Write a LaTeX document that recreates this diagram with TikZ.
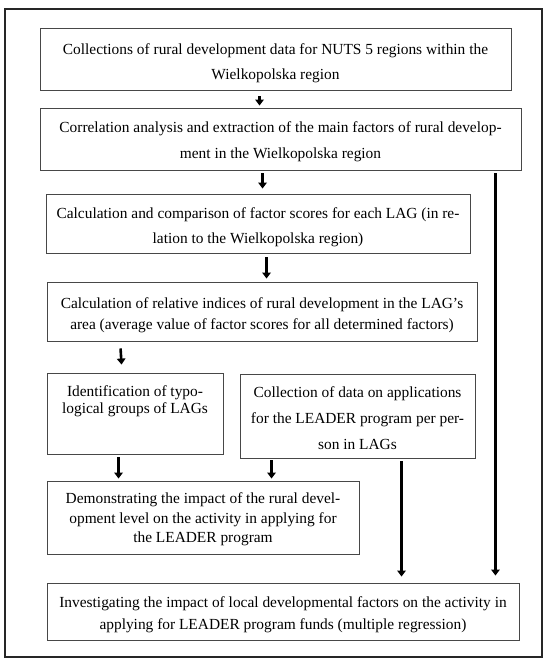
\documentclass[tikz,border=0pt]{standalone}
\usepackage{fontspec}
\setmainfont{Liberation Serif}
\usetikzlibrary{arrows.meta}
\begin{document}
\begin{tikzpicture}[x=1pt,y=-1pt,
  box/.style={draw=black!72,line width=0.9pt,inner sep=0pt},
  txt/.style={inner sep=0pt,align=center,text=black},
  fs/.style={font=\fontsize{15.4}{#1}\selectfont},
  arr/.style={draw=black,line width=2.6pt,-{Triangle[width=8.5pt,length=6pt]}}]
\useasboundingbox (0,0) rectangle (550,665);
\node[draw=black!85,line width=1.3pt,minimum width=537pt,minimum height=648pt,inner sep=0pt] (frame) at (273.5,333) {};
\node[box,minimum width=471pt,minimum height=62pt] (b1) at (275.5,59) {};
\node[txt,fs=25] (t1) at ([yshift=-4pt]b1.center)
  {Collections of rural development data for NUTS 5 regions within the\\Wielkopolska region};
\node[box,minimum width=481pt,minimum height=62pt] (b2) at (280.5,139) {};
\node[txt,fs=26] (t2) at ([yshift=-3pt]b2.center)
  {Correlation analysis and extraction of the main factors of rural develop-\\ment in the Wielkopolska region};
\node[box,minimum width=424pt,minimum height=59pt] (b3) at (258,223.5) {};
\node[txt,fs=25] (t3) at ([yshift=-4pt]b3.center)
  {Calculation and comparison of factor scores for each LAG (in re-\\lation to the Wielkopolska region)};
\node[box,minimum width=430pt,minimum height=59pt] (b4) at (262,311.5) {};
\node[txt,fs=21] (t4) at ([yshift=-3.5pt]b4.center)
  {Calculation of relative indices of rural development in the LAG’s\\area (average value of factor scores for all determined factors)};
\node[box,minimum width=176pt,minimum height=81pt] (b5) at (135,413.5) {};
\node[txt,fs=16.5,anchor=north] (t5) at ([yshift=-13pt]b5.north)
  {Identification of typo-\\logical groups of LAGs};
\node[box,minimum width=235pt,minimum height=84pt] (b6) at (357.5,416) {};
\node[txt,fs=26] (t6) at ([yshift=-2pt]b6.center)
  {Collection of data on applications\\for the LEADER program per per-\\son in LAGs};
\node[box,minimum width=312pt,minimum height=73pt] (b7) at (203,517.5) {};
\node[txt,fs=19.5] (t7) at ([yshift=-2pt]b7.center)
  {Demonstrating the impact of the rural devel-\\opment level on the activity in applying for\\the LEADER program};
\node[box,minimum width=472pt,minimum height=57pt] (b8) at (283,611.5) {};
\node[txt,fs=21.5] (t8) at ([yshift=-3pt]b8.center)
  {Investigating the impact of local developmental factors on the activity in\\applying for LEADER program funds (multiple regression)};
% arrows
\draw[arr] ([xshift=220pt,yshift=-6pt]b1.south west) -- ([xshift=220pt,yshift=2pt]b2.north west);
\draw[arr] ([xshift=223pt,yshift=-3pt]b2.south west) -- ([xshift=217pt,yshift=5pt]b3.north west);
\draw[arr] ([xshift=221pt,yshift=-4pt]b3.south west) -- ([xshift=220pt,yshift=3pt]b4.north west);
\draw[arr] ([xshift=74pt,yshift=-7pt]b4.south west) -- ([xshift=75pt,yshift=8pt]b5.north west);
\draw[arr] ([xshift=72pt,yshift=-3pt]b5.south west) -- ([xshift=72pt,yshift=2pt]b7.north west);
\draw[arr] ([xshift=32pt,yshift=-2pt]b6.south west) -- ([xshift=225pt,yshift=2pt]b7.north west);
\draw[arr] ([xshift=162pt,yshift=-3pt]b6.south west) -- ([xshift=355pt,yshift=6pt]b8.north west);
\draw[arr] ([xshift=-26pt,yshift=-3pt]b2.south east) -- ([xshift=-24pt,yshift=7pt]b8.north east);
\end{tikzpicture}
\end{document}
